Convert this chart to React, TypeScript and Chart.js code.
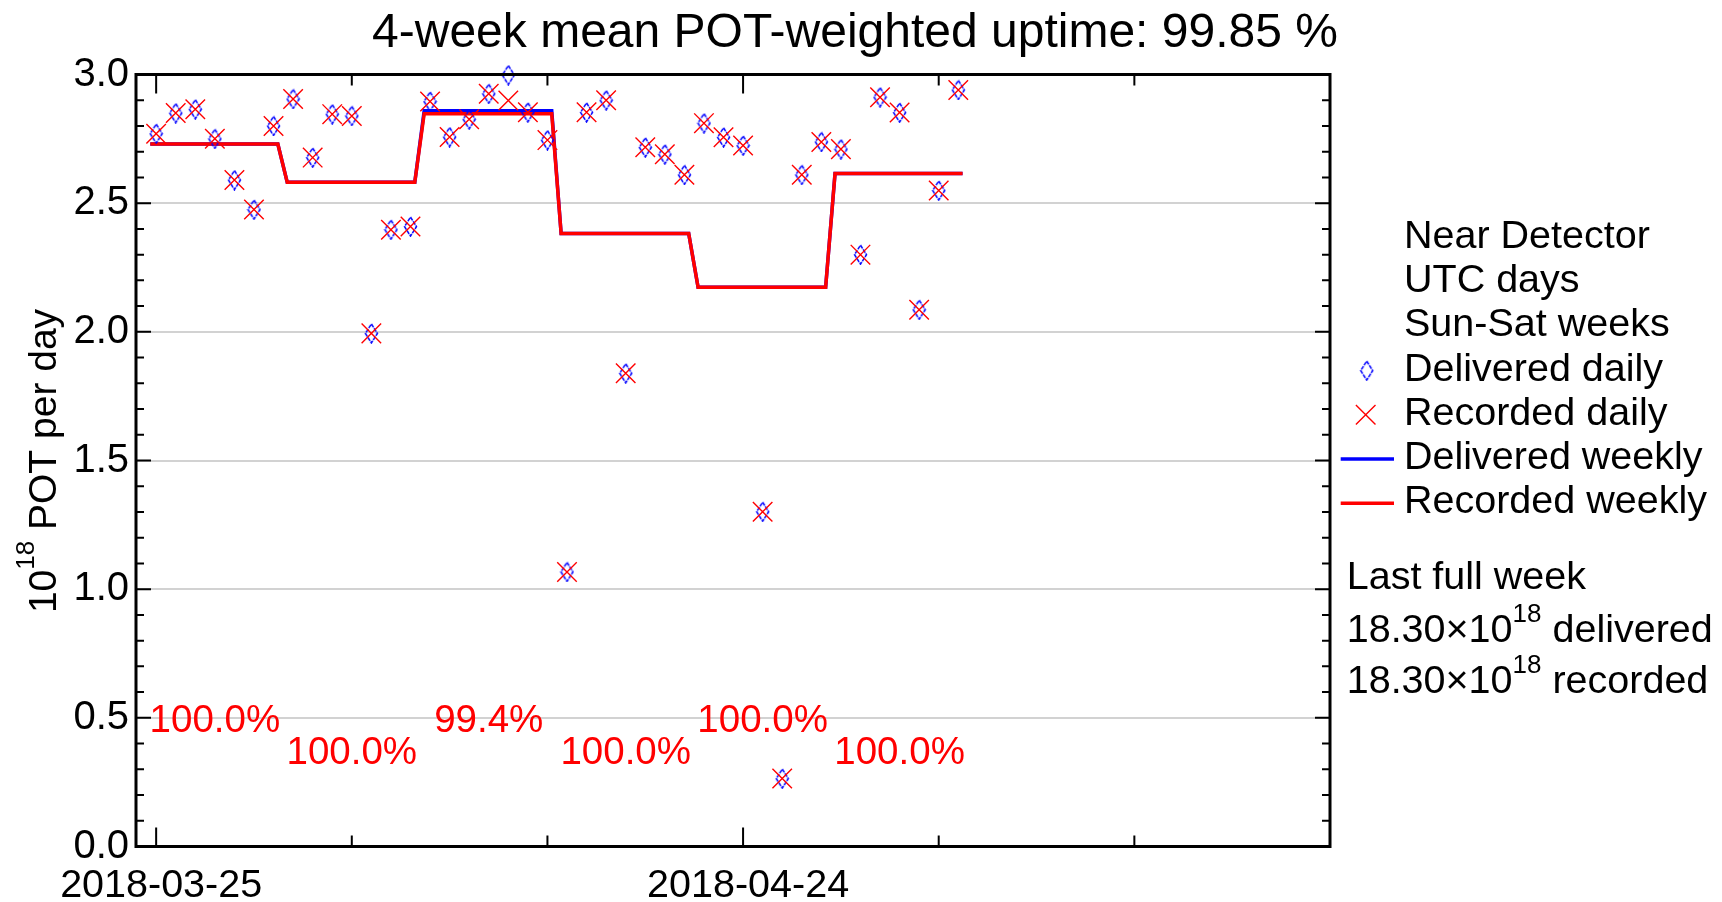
import React, { useEffect, useRef } from "react";
import { Chart, registerables } from "chart.js";

Chart.register(...registerables);

const FONT = "'Liberation Sans', Arial, Helvetica, sans-serif";

// ---------- data ----------
const dayDates = [
  "2018-03-25", "2018-03-26", "2018-03-27", "2018-03-28", "2018-03-29", "2018-03-30", "2018-03-31",
  "2018-04-01", "2018-04-02", "2018-04-03", "2018-04-04", "2018-04-05", "2018-04-06", "2018-04-07",
  "2018-04-08", "2018-04-09", "2018-04-10", "2018-04-11", "2018-04-12", "2018-04-13", "2018-04-14",
  "2018-04-15", "2018-04-16", "2018-04-17", "2018-04-18", "2018-04-19", "2018-04-20", "2018-04-21",
  "2018-04-22", "2018-04-23", "2018-04-24", "2018-04-25", "2018-04-26", "2018-04-27", "2018-04-28",
  "2018-04-29", "2018-04-30", "2018-05-01", "2018-05-02", "2018-05-03", "2018-05-04", "2018-05-05",
];

const deliveredDaily = [
  2.77, 2.85, 2.865, 2.75, 2.59, 2.475, 2.8,
  2.905, 2.677, 2.846, 2.839, 1.994, 2.397, 2.409,
  2.895, 2.757, 2.826, 2.925, 2.998, 2.853, 2.745,
  1.067, 2.853, 2.9, 1.839, 2.717, 2.69, 2.61,
  2.811, 2.756, 2.724, 1.301, 0.264, 2.61, 2.738,
  2.71, 2.3, 2.912, 2.852, 2.086, 2.549, 2.94,
];

const recordedDaily = [
  2.77, 2.85, 2.865, 2.75, 2.59, 2.475, 2.8,
  2.905, 2.677, 2.846, 2.839, 1.994, 2.397, 2.409,
  2.895, 2.757, 2.826, 2.925, 2.899, 2.853, 2.745,
  1.067, 2.853, 2.9, 1.839, 2.717, 2.69, 2.61,
  2.811, 2.756, 2.724, 1.301, 0.264, 2.61, 2.738,
  2.71, 2.3, 2.912, 2.852, 2.086, 2.549, 2.94,
];

const weekStarts = ["2018-03-25", "2018-04-01", "2018-04-08", "2018-04-15", "2018-04-22", "2018-04-29"];
const deliveredWeekly = [2.73, 2.581, 2.859, 2.382, 2.173, 2.615];
const recordedWeekly = [2.73, 2.581, 2.847, 2.382, 2.173, 2.615];
const weeklyUptime = ["100.0%", "100.0%", "99.4%", "100.0%", "100.0%", "100.0%"];

const xTickDates = ["2018-03-25", "2018-04-04", "2018-04-14", "2018-04-24", "2018-05-04", "2018-05-14", "2018-05-24"];
const xLabeledDates = ["2018-03-25", "2018-04-24"];
const yTickValues = [0, 0.5, 1, 1.5, 2, 2.5, 3];
const yTickLabels = ["0.0", "0.5", "1.0", "1.5", "2.0", "2.5", "3.0"];

const chartTitle = "4-week mean POT-weighted uptime: 99.85 %";
const yTitleParts = ["10", "18", " POT per day"];
const infoLines = ["Near Detector", "UTC days", "Sun-Sat weeks"];
const seriesLabels = ["Delivered daily", "Recorded daily", "Delivered weekly", "Recorded weekly"];
const lastWeekHeading = "Last full week";
const lastWeekValues = ["18.30", "18.30"];
const lastWeekKinds = ["delivered", "recorded"];

// ---------- helpers ----------
const ORIGIN = Date.UTC(2018, 2, 25);
const toDay = (s: string) => (Date.parse(s + "T00:00:00Z") - ORIGIN) / 86400000;
const X_MIN = -1.03;
const X_MAX = 60;
const WEEK_SEG_START = -0.3;
const WEEK_SEG_END = 6.22;

const RED = "#ff0000";
const BLUE = "#0000ff";

function makeDiamond(): HTMLCanvasElement {
  const c = document.createElement("canvas");
  c.width = 15;
  c.height = 21;
  const g = c.getContext("2d")!;
  g.strokeStyle = BLUE;
  g.lineWidth = 1.5;
  g.setLineDash([4, 1]);
  g.beginPath();
  g.moveTo(7.5, 1);
  g.lineTo(13.5, 10.5);
  g.lineTo(7.5, 20);
  g.lineTo(1.5, 10.5);
  g.closePath();
  g.stroke();
  return c;
}

function weeklyPoints(vals: number[]) {
  const pts: { x: number; y: number }[] = [];
  weekStarts.forEach((d, i) => {
    const s = toDay(d);
    pts.push({ x: s + WEEK_SEG_START, y: vals[i] });
    pts.push({ x: s + WEEK_SEG_END, y: vals[i] });
  });
  return pts;
}

function drawSup(ctx: CanvasRenderingContext2D, x: number, y: number, base: string, sup: string, rest: string, size: number, supSize: number, raise: number) {
  ctx.font = `${size}px ${FONT}`;
  const w1 = ctx.measureText(base).width;
  ctx.fillText(base, x, y);
  ctx.font = `${supSize}px ${FONT}`;
  const w2 = ctx.measureText(sup).width;
  ctx.fillText(sup, x + w1, y - raise);
  ctx.font = `${size}px ${FONT}`;
  ctx.fillText(rest, x + w1 + w2, y);
}

function makeDecorPlugin(diamond: HTMLCanvasElement) {
  return {
    id: "decor",
    beforeDatasetsDraw(chart: any) {
      const { ctx, scales } = chart;
      const x = scales.x;
      const y = scales.y;
      ctx.save();
      ctx.fillStyle = RED;
      ctx.font = `38.5px ${FONT}`;
      ctx.textAlign = "center";
      ctx.textBaseline = "alphabetic";
      weeklyUptime.forEach((t, i) => {
        const cx = x.getPixelForValue(toDay(weekStarts[i]) + 3);
        const cy = y.getPixelForValue(i % 2 === 0 ? 0.446 : 0.321);
        ctx.fillText(t, cx, cy);
      });
      ctx.restore();
    },
    afterDraw(chart: any) {
      const { ctx, chartArea, scales } = chart;
      const x = scales.x;
      const y = scales.y;
      const { left, right, top, bottom } = chartArea;
      ctx.save();

      // ticks
      ctx.strokeStyle = "#000";
      ctx.lineWidth = 2;
      ctx.beginPath();
      for (let i = 0; i <= 30; i++) {
        const py = y.getPixelForValue(i / 10);
        const len = i % 5 === 0 ? 15 : 8;
        ctx.moveTo(left, py);
        ctx.lineTo(left + len, py);
        ctx.moveTo(right, py);
        ctx.lineTo(right - len, py);
      }
      xTickDates.forEach((d) => {
        const px = x.getPixelForValue(toDay(d));
        const len = xLabeledDates.includes(d) ? 19 : 11;
        ctx.moveTo(px, bottom);
        ctx.lineTo(px, bottom - len);
        ctx.moveTo(px, top);
        ctx.lineTo(px, top + len);
      });
      ctx.stroke();

      // frame
      ctx.lineWidth = 3;
      ctx.strokeRect(left, top, right - left, bottom - top);

      // title
      ctx.fillStyle = "#000";
      ctx.textBaseline = "alphabetic";
      ctx.textAlign = "center";
      ctx.font = `48px ${FONT}`;
      ctx.fillText(chartTitle, 855, 47);

      // y title
      ctx.save();
      ctx.translate(56, 461);
      ctx.rotate(-Math.PI / 2);
      ctx.textAlign = "left";
      ctx.font = `39px ${FONT}`;
      const w1 = ctx.measureText(yTitleParts[0]).width;
      const w3 = ctx.measureText(yTitleParts[2]).width;
      ctx.font = `26px ${FONT}`;
      const w2 = ctx.measureText(yTitleParts[1]).width;
      drawSup(ctx, -(w1 + w2 + w3) / 2, 0, yTitleParts[0], yTitleParts[1], yTitleParts[2], 39, 26, 22);
      ctx.restore();

      // legend
      ctx.textAlign = "left";
      ctx.font = `39.5px ${FONT}`;
      const lx = 1404;
      const rows = [...infoLines, ...seriesLabels];
      rows.forEach((t, i) => {
        ctx.fillText(t, lx, 248 + i * 44.2);
      });
      const rowY = (i: number) => 248 + (infoLines.length + i) * 44.2 - 10;
      ctx.drawImage(diamond, 1366.7 - diamond.width / 2, rowY(0) - diamond.height / 2);
      ctx.strokeStyle = RED;
      ctx.lineWidth = 1.4;
      ctx.beginPath();
      const cxX = 1365.7;
      const cyX = rowY(1);
      ctx.moveTo(cxX - 9.8, cyX - 9.8);
      ctx.lineTo(cxX + 9.8, cyX + 9.8);
      ctx.moveTo(cxX + 9.8, cyX - 9.8);
      ctx.lineTo(cxX - 9.8, cyX + 9.8);
      ctx.stroke();
      ctx.lineWidth = 3.5;
      ctx.strokeStyle = BLUE;
      ctx.beginPath();
      ctx.moveTo(1340.7, rowY(2));
      ctx.lineTo(1394, rowY(2));
      ctx.stroke();
      ctx.strokeStyle = RED;
      ctx.beginPath();
      ctx.moveTo(1340.7, rowY(3));
      ctx.lineTo(1394, rowY(3));
      ctx.stroke();

      // last full week
      ctx.fillStyle = "#000";
      ctx.font = `39.5px ${FONT}`;
      ctx.fillText(lastWeekHeading, 1346.7, 589);
      lastWeekValues.forEach((v, i) => {
        drawSup(ctx, 1346.7, 641.7 + i * 51, `${v}\u00d710`, "18", ` ${lastWeekKinds[i]}`, 39.5, 26, 20);
      });

      ctx.restore();
    },
  };
}

export default function App() {
  const ref = useRef<HTMLCanvasElement | null>(null);

  useEffect(() => {
    document.body.style.margin = "0";
    const canvas = ref.current!;
    const diamond = makeDiamond();
    const xLabelMap: Record<number, string> = {};
    xLabeledDates.forEach((d) => (xLabelMap[toDay(d)] = d));

    const chart = new Chart(canvas, {
      type: "scatter",
      data: {
        datasets: [
          {
            label: seriesLabels[1],
            data: dayDates.map((d, i) => ({ x: toDay(d), y: recordedDaily[i] })),
            showLine: false,
            pointStyle: "crossRot",
            pointRadius: 13.8,
            pointBorderColor: RED,
            pointBackgroundColor: "rgba(0,0,0,0)",
            pointBorderWidth: 1.4,
            borderColor: RED,
            order: 0,
            clip: false,
          } as any,
          {
            label: seriesLabels[0],
            data: dayDates.map((d, i) => ({ x: toDay(d), y: deliveredDaily[i] })),
            showLine: false,
            pointStyle: diamond,
            pointRadius: 8,
            borderColor: BLUE,
            order: 1,
            clip: false,
          } as any,
          {
            label: seriesLabels[3],
            data: weeklyPoints(recordedWeekly),
            showLine: true,
            borderColor: RED,
            borderWidth: 3.5,
            pointRadius: 0,
            tension: 0,
            order: 2,
          } as any,
          {
            label: seriesLabels[2],
            data: weeklyPoints(deliveredWeekly),
            showLine: true,
            borderColor: BLUE,
            borderWidth: 3.5,
            pointRadius: 0,
            tension: 0,
            order: 3,
          } as any,
        ],
      },
      options: {
        responsive: false,
        animation: false,
        devicePixelRatio: 1,
        events: [],
        layout: { padding: { top: 74.5, right: 392, bottom: 0, left: 0 } },
        plugins: {
          legend: { display: false },
          tooltip: { enabled: false },
          title: { display: false },
        },
        scales: {
          x: {
            type: "linear",
            min: X_MIN,
            max: X_MAX,
            afterBuildTicks: (scale: any) => {
              scale.ticks = xTickDates.map((d) => ({ value: toDay(d) }));
            },
            afterFit: (scale: any) => {
              scale.height = 55.5;
            },
            grid: { display: false, drawTicks: false },
            border: { display: false },
            ticks: {
              autoSkip: false,
              maxRotation: 0,
              padding: 19.5,
              labelOffset: 5,
              color: "#000",
              font: { family: FONT, size: 39.5, lineHeight: 1 },
              callback: (v: any) => xLabelMap[Number(v)] ?? "",
            },
          },
          y: {
            type: "linear",
            min: 0,
            max: 3,
            afterBuildTicks: (scale: any) => {
              scale.ticks = yTickValues.map((v) => ({ value: v }));
            },
            afterFit: (scale: any) => {
              scale.width = 136;
            },
            grid: {
              drawTicks: false,
              lineWidth: 2,
              color: (c: any) => {
                const v = c.tick ? c.tick.value : 0;
                return v > 0.01 && v < 2.99 ? "#d2d2d2" : "rgba(0,0,0,0)";
              },
            },
            border: { display: false },
            ticks: {
              padding: 7,
              color: "#000",
              font: { family: FONT, size: 40 },
              callback: (v: any) => {
                const idx = yTickValues.findIndex((t) => Math.abs(t - Number(v)) < 1e-6);
                return idx >= 0 ? yTickLabels[idx] : "";
              },
            },
          },
        },
      },
      plugins: [makeDecorPlugin(diamond)],
    });

    return () => chart.destroy();
  }, []);

  return (
    <div style={{ position: "relative", width: 1722, height: 902, background: "#fff" }}>
      <canvas ref={ref} width={1722} height={902} style={{ display: "block" }} />
    </div>
  );
}
